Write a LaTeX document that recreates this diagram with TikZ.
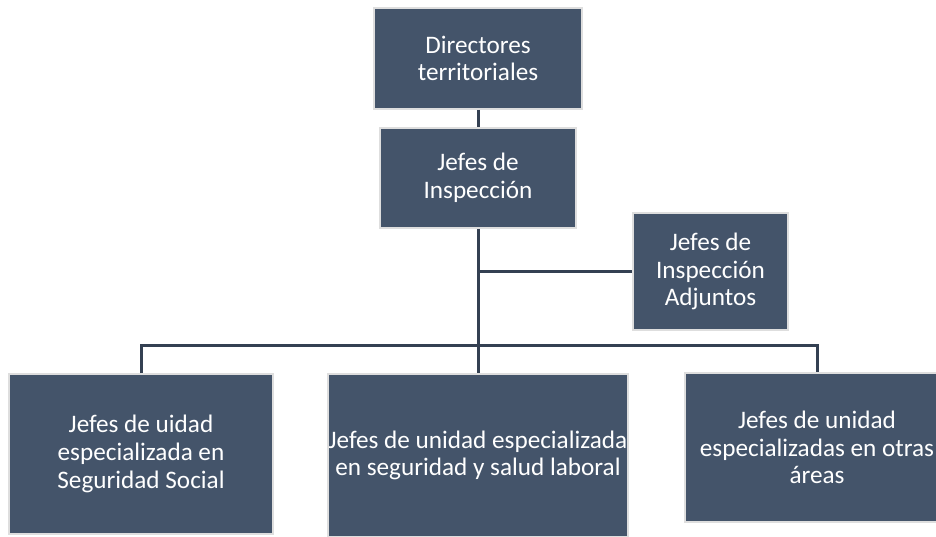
\documentclass[tikz,border=0pt]{standalone}
\usepackage{fontspec}
\setmainfont{Carlito}

\tikzset{every picture/.style={line width=0.75pt}}
\tikzset{
  orgbox/.style={draw={rgb, 255:red, 222; green, 222; blue, 222}, line width=1.2pt,
    fill={rgb, 255:red, 68; green, 84; blue, 106}, text=white, inner sep=0pt,
    align=center, font=\fontsize{18.9}{20.8}\selectfont},
  orgline/.style={draw={rgb, 255:red, 52; green, 64; blue, 82}, line width=2.25pt}
}

\begin{document}
\begin{tikzpicture}[x=0.75pt,y=0.75pt,yscale=-1,xscale=1]
\useasboundingbox (0,0) rectangle (936,536);

%Shape: Rectangle
\node [orgbox, minimum width=156pt, minimum height=75.75pt] (dir) at (478,58.5) {Directores\\territoriales};
%Shape: Rectangle
\node [orgbox, minimum width=147pt, minimum height=75pt] (jefes) at (478,178) {Jefes de\\Inspección};
%Shape: Rectangle
\node [orgbox, minimum width=116.25pt, minimum height=87.75pt] (adj) at (710.5,271.5) {Jefes de\\Inspección\\Adjuntos};

%Shape: Rectangle
\node [orgbox, minimum width=198pt, minimum height=120pt] (segsoc) at (141,454) {Jefes de uidad\\especializada en\\Seguridad Social};
%Shape: Rectangle
\node [orgbox, minimum width=225pt, minimum height=122.25pt] (segsal) at (478,455.5) {Jefes de unidad especializada\\en seguridad y salud laboral};
%Shape: Rectangle
\node [orgbox, minimum width=198pt, minimum height=111.75pt] (otras) at (817,447.5) {Jefes de unidad\\especializadas en otras\\áreas};

%Straight Lines
\coordinate (bus) at (478,345);
\draw [orgline] (dir.south) -- (jefes.north);
\draw [orgline] (jefes.south) -- (bus);
\draw [orgline] (jefes.south |- adj.west) -- (adj.west);
\draw [orgline] (segsoc.north) |- (bus) -| (otras.north);
\draw [orgline] (bus) -- (segsal.north);

\end{tikzpicture}
\end{document}
